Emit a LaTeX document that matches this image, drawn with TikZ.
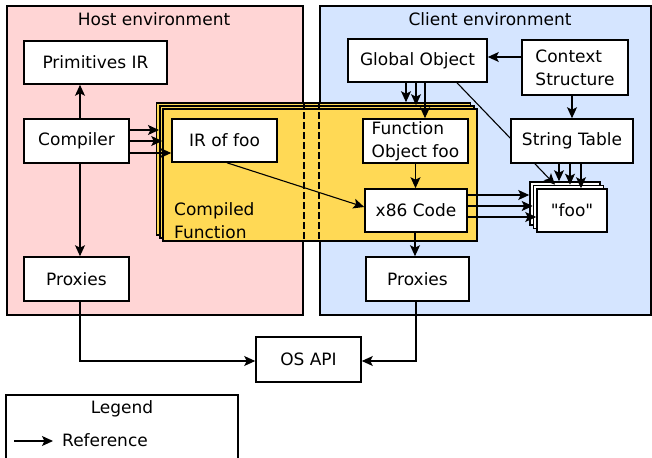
\documentclass[tikz,border=0pt]{standalone}
\usepackage{fontspec}
\setmainfont{DejaVu Sans}
\newfontfamily\plainsans{DejaVu Sans}
\usetikzlibrary{arrows.meta}

\definecolor{hostfill}{HTML}{FFD5D5}
\definecolor{clientfill}{HTML}{D5E5FF}
\definecolor{cfyellow}{HTML}{FFD955}

\begin{document}
\begin{tikzpicture}[x=1pt,y=-1pt,
  every node/.style={font=\plainsans\fontsize{17}{23}\selectfont},
  sz/.style 2 args={minimum width=#1pt, minimum height=#2pt},
  box/.style={draw, line width=1.6pt, fill=white, inner sep=0pt, align=center},
  envbox/.style={draw, line width=1.6pt, inner sep=0pt},
  stackbox/.style={draw, line width=1.6pt, fill=cfyellow, inner sep=0pt, sz={314}{132}},
  ref/.style={line width=1.1pt, -{Stealth[length=11pt,width=10pt,inset=2.5pt]}},
  bound/.style={line width=1.6pt, dash pattern=on 7pt off 3pt}
]
\useasboundingbox (0,0) rectangle (652,457);

% environments
\node[envbox, fill=hostfill, sz={296}{309}] (host) at (155,160.5) {};
\node[envbox, fill=clientfill, sz={331}{309}] (client) at (485.5,160.5) {};
\node (hosttitle) at (154,19) {Host environment};
\node (clienttitle) at (490,19) {Client environment};

% compiled function (stacked)
\node[stackbox] (cfA) at (313.5,169) {};
\node[stackbox] (cfB) at (316.75,172) {};
\node[stackbox] (cfC) at (320,175) {};
\draw[bound] (cfA.north -| host.east) -- (cfC.south -| host.east);
\draw[bound] (cfA.north -| client.west) -- (cfC.south -| client.west);
\node[anchor=west, align=left, inner sep=0pt] (cflabel) at (174,220.5) {Compiled\\Function};

% host side
\node[box, sz={143}{43}] (prim) at (95.5,62.5) {Primitives IR};
\node[box, sz={105}{44}] (compiler) at (76.5,141) {Compiler};
\node[box, sz={105}{44}] (hproxy) at (76.5,279) {Proxies};
\node[box, sz={105}{43}] (ir) at (224.5,140.5) {IR of foo};

% client side
\node[box, sz={139}{43}] (glob) at (417.5,60.5) {Global Object};
\node[box, sz={106}{55}, align=left] (ctx) at (575,67.5) {Context\\Structure};
\node[box, sz={105}{44}, align=left] (fobj) at (415.5,141) {Function\\Object foo};
\node[box, sz={102}{43}] (x86) at (416,210.5) {x86 Code};
\node[box, sz={103}{44}] (cproxy) at (417.5,279) {Proxies};
\node[box, sz={70}{43}] (fooA) at (565,203.5) {};
\node[box, sz={70}{43}] (fooB) at (568.5,207) {};
\node[box, sz={70}{43}] (fooC) at (572,210.5) {"foo"};

% global object to string, passing behind the string table
\draw[ref] ([xshift=39.5pt]glob.south) -- ([xshift=-13.5pt]fooB.north);
\node[box, sz={122}{44}] (strtab) at (572,141) {String Table};

\node[box, sz={105}{45}] (osapi) at (308.5,359.5) {OS API};

% references
\draw[ref] ([xshift=3.5pt]compiler.north) -- ([xshift=3.5pt]compiler.north |- prim.south);
\draw[ref] ([xshift=3.5pt]compiler.south) -- ([xshift=3.5pt]compiler.south |- hproxy.north);
\draw[ref] ([yshift=11pt]compiler.east) -- ([yshift=11pt]compiler.east -| cfB.west);
\draw[ref] (compiler.east) -- (compiler.east -| cfC.west);
\draw[ref] ([yshift=-12pt]compiler.east) -- ([yshift=-12pt]compiler.east -| ir.west);

\draw[ref] ([xshift=-11.5pt]glob.south) -- ([xshift=-11.5pt]glob.south |- cfA.north);
\draw[ref] ([xshift=-1.5pt]glob.south) -- ([xshift=-1.5pt]glob.south |- cfB.north);
\draw[ref] ([xshift=7.5pt]glob.south) -- ([xshift=7.5pt]glob.south |- fobj.north);

\draw[ref] ([yshift=10.5pt]ctx.west) -- ([yshift=10.5pt]ctx.west -| glob.east);
\draw[ref] ([xshift=-3pt]ctx.south) -- ([xshift=-3pt]ctx.south |- strtab.north);

\draw[ref] ([xshift=-13pt]strtab.south) -- ([xshift=-13pt]strtab.south |- fooA.north);
\draw[ref] ([xshift=-2pt]strtab.south) -- ([xshift=-2pt]strtab.south |- fooB.north);
\draw[ref] ([xshift=9pt]strtab.south) -- ([xshift=9pt]strtab.south |- fooC.north);

\draw[ref] ([xshift=2.5pt]ir.south) -- ([yshift=3.5pt]x86.west);
\draw[ref] (fobj.south) -- (fobj.south |- x86.north);
\draw[ref] ([xshift=-1pt]x86.south) -- ([xshift=-1pt]x86.south |- cproxy.north);

\draw[ref] ([yshift=15.5pt]x86.east) -- ([yshift=15.5pt]x86.east -| fooA.west);
\draw[ref] ([yshift=4.5pt]x86.east) -- ([yshift=4.5pt]x86.east -| fooB.west);
\draw[ref] ([yshift=-6.5pt]x86.east) -- ([yshift=-6.5pt]x86.east -| fooC.west);

\draw[ref] ([xshift=3.5pt]hproxy.south) |- ([yshift=-1.5pt]osapi.west);
\draw[ref] ([xshift=-1.5pt]cproxy.south) |- ([yshift=-1.5pt]osapi.east);

% legend
\node[envbox, fill=white, sz={232}{80}, anchor=north west] (legend) at (5,394) {};
\node (legendtitle) at (122,409) {Legend};
\coordinate (refstart) at (14,441);
\coordinate (refend) at (53,441);
\draw[ref] (refstart) -- (refend);
\node[anchor=west, inner sep=0pt] (reflabel) at (62,440) {Reference};
\end{tikzpicture}
\end{document}
